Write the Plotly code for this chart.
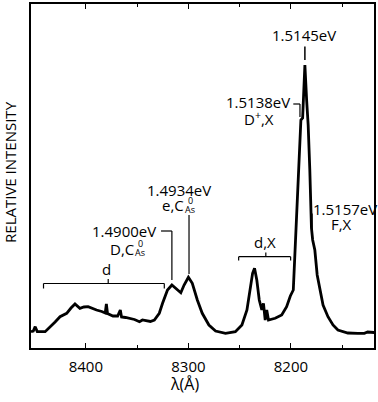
import plotly.graph_objects as go

# Spectrum: wavelength (Å) and relative intensity (arb. units)
wavelength = [8453.5, 8451.3, 8449.4, 8447.4, 8439.7, 8434.8, 8430.0, 8425.2, 8418.7, 8414.5,
              8410.6, 8405.8, 8401.9, 8397.8, 8394.2, 8389.6, 8384.5, 8381.1, 8380.0, 8378.9,
              8373.6, 8369.0, 8366.4, 8365.2, 8361.3, 8357.4, 8352.6, 8347.7, 8344.8, 8341.3,
              8337.1, 8333.2, 8328.4, 8325.2, 8320.4, 8316.1, 8312.2, 8307.4, 8304.2, 8300.0,
              8296.2, 8291.3, 8286.5, 8280.0, 8273.5, 8263.8, 8254.2, 8247.8, 8242.9, 8239.6,
              8237.4, 8235.5, 8233.3, 8230.9, 8228.4, 8226.8, 8225.1, 8223.6, 8221.9, 8215.4,
              8209.0, 8204.2, 8200.6, 8197.7, 8196.1, 8192.9, 8190.3, 8188.6, 8186.4, 8184.7,
              8183.2, 8181.6, 8180.0, 8178.8, 8176.7, 8174.4, 8171.9, 8168.7, 8163.9, 8159.0,
              8154.2, 8144.5, 8134.8, 8128.4, 8125.2, 8118.7]
intensity = [16.3, 17.0, 21.3, 16.5, 16.3, 21.0, 26.0, 31.3, 34.7, 40.0,
             44.0, 39.7, 41.0, 41.3, 39.5, 38.0, 36.5, 35.0, 44.0, 34.5,
             32.0, 32.0, 38.0, 31.0, 30.5, 29.7, 28.5, 26.3, 28.0, 27.3,
             26.5, 28.0, 34.7, 44.7, 58.0, 63.0, 59.7, 55.3, 63.0, 70.7,
             64.7, 48.0, 34.7, 23.0, 17.0, 14.7, 16.3, 23.0, 38.0, 58.0,
             74.7, 79.7, 68.0, 48.0, 38.0, 44.7, 28.0, 38.0, 28.0, 29.7,
             33.0, 41.3, 52.0, 58.0, 98.0, 165.0, 228.0, 230.0, 283.0, 248.0,
             223.0, 178.0, 120.0, 108.0, 98.0, 73.0, 58.0, 43.0, 31.3, 23.0,
             18.0, 15.0, 14.7, 14.7, 16.0, 15.5]

major_ticks = [8400, 8300, 8200]
major_labels = ["8400", "8300", "8200"]

FONT = "Open Sans"

fig = go.Figure()
fig.add_trace(go.Scatter(x=wavelength, y=intensity, mode="lines",
                         line=dict(color="black", width=2.8), hoverinfo="skip",
                         showlegend=False))

shapes = []
def seg(x0, y0, x1, y1, w=1.2):
    shapes.append(dict(type="line", xref="x", yref="y", x0=x0, y0=y0, x1=x1, y1=y1,
                       line=dict(color="black", width=w)))

# "d" bracket
seg(8441.3, 64.5, 8323.5, 64.5)
seg(8441.3, 64.5, 8441.3, 59.5)
seg(8323.5, 64.5, 8323.5, 59.5)
seg(8378.2, 64.5, 8378.2, 69.0)
# "d,X" bracket
seg(8251.0, 91.3, 8200.3, 91.3)
seg(8251.0, 91.3, 8251.0, 87.5)
seg(8200.3, 91.3, 8200.3, 87.5)
seg(8224.5, 91.3, 8224.5, 95.5)
# 1.4900 eV leader
seg(8326.7, 117.0, 8316.1, 117.0)
seg(8316.1, 117.0, 8316.1, 68.0)
# 1.4934 eV leader
seg(8299.4, 133.0, 8299.4, 74.0)
# 1.5138 eV leader
seg(8197.7, 244.0, 8191.2, 244.0)
seg(8191.2, 244.0, 8191.2, 231.0)
# 1.5145 eV dash
seg(8186.4, 301.5, 8186.4, 288.0, 1.5)
# 1.5157 eV leader
seg(8179.4, 134.5, 8179.4, 113.0)

ann = []
def text(x, y, s, size=15, xanchor="center"):
    ann.append(dict(x=x, y=y, xref="x", yref="y", text=s, showarrow=False,
                    xanchor=xanchor, yanchor="middle",
                    font=dict(family=FONT, size=size, color="black")))

text(8379.4, 79.0, "d")
text(8225.5, 106.5, "d,X")
text(8329.5, 117.0, "1.4900eV", xanchor="right")
text(8351.1, 99.5, "D,C", xanchor="right")
text(8346.8, 104.5, "0", size=9)
text(8346.8, 95.5, "As", size=9)
text(8309.5, 158.0, "1.4934eV")
text(8302.6, 143.0, "e,C", xanchor="right")
text(8298.2, 147.5, "0", size=9)
text(8298.2, 138.5, "As", size=9)
text(8199.4, 246.5, "1.5138eV", xanchor="right")
text(8231.6, 229.5, "D<sup>+</sup>,X")
text(8187.1, 313.0, "1.5145eV")
text(8180.7, 139.5, "1.5157eV", xanchor="left")
text(8150.9, 124.5, "F,X")

# axis titles
ann.append(dict(x=-0.061, y=0.512, xref="paper", yref="paper", text="RELATIVE INTENSITY",
                showarrow=False, textangle=-90, xanchor="center", yanchor="middle",
                font=dict(family=FONT, size=15, color="black")))
ann.append(dict(x=0.448, y=-0.105, xref="paper", yref="paper", text="λ(Å)",
                showarrow=False, xanchor="center", yanchor="middle",
                font=dict(family=FONT, size=16, color="black")))

fig.update_layout(
    width=378, height=402,
    margin=dict(l=31, r=2, t=4, b=54),
    paper_bgcolor="white", plot_bgcolor="white",
    shapes=shapes, annotations=ann,
    font=dict(family=FONT, size=15, color="black"),
    xaxis=dict(range=[8453.5, 8119.0], tickvals=major_ticks, ticktext=major_labels,
               ticks="inside", ticklen=5, tickwidth=1.2, tickcolor="black",
               showline=True, linecolor="black", linewidth=1.5, mirror="ticks",
               showgrid=False, zeroline=False, ticklabelstandoff=4,
               minor=dict(ticks="inside", tickvals=[8350, 8250, 8150], ticklen=3,
                          tickwidth=1.2, tickcolor="black", showgrid=False),
               tickfont=dict(family=FONT, size=15, color="black")),
    yaxis=dict(range=[0, 344], showticklabels=False, ticks="",
               showline=True, linecolor="black", linewidth=1.5, mirror=True,
               showgrid=False, zeroline=False),
)

fig.write_html("out.html", config={"displayModeBar": False},
               post_script="document.body.style.margin='0';document.body.style.padding='0';")
